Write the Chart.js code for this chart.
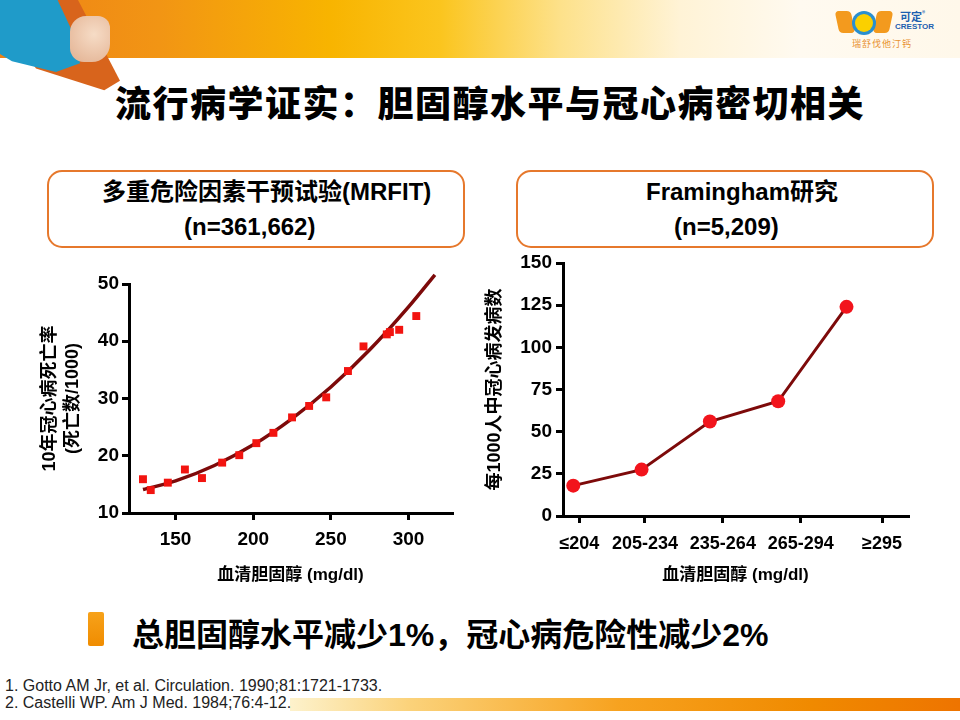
<!DOCTYPE html>
<html lang="zh-CN">

<head>
    <meta charset="UTF-8">
    <title>流行病学证实：胆固醇水平与冠心病密切相关</title>
    <script src="https://cdn.jsdelivr.net/npm/chart.js"></script>
    <style>
        body {
            margin: 0;
            background: #fff;
        }

        .slide {
            position: relative;
            width: 960px;
            height: 720px;
            overflow: hidden;
            background: #fff;
            font-family: "Liberation Sans", "Noto Sans CJK SC", sans-serif;
        }

        .banner {
            position: absolute;
            left: 0;
            top: 0;
            width: 960px;
            height: 58px;
            background: linear-gradient(to right, #ee8216 0px, #f29514 160px, #f8b400 330px, #fbc51e 440px, #fde18a 560px, #fff3d6 680px, #fffaf0 800px, #fff8ea 960px);
        }

        .cape {
            position: absolute;
            left: 15px;
            top: 0;
            width: 105px;
            height: 95px;
            background: #d8641c;
            clip-path: polygon(10% 0, 60% 0, 100% 85%, 85% 95%, 20% 72%, 0 40%);
        }

        .hero {
            position: absolute;
            left: 0;
            top: 0;
            width: 80px;
            height: 72px;
            background: #1f9bc9;
            clip-path: polygon(0 0, 72% 0, 95% 55%, 100% 88%, 70% 100%, 15% 85%, 0 75%);
        }

        .fist {
            position: absolute;
            left: 70px;
            top: 16px;
            width: 40px;
            height: 46px;
            border-radius: 16px 12px 18px 14px;
            background: radial-gradient(circle at 60% 40%, #f6dcc6, #e2b090);
        }

        .logo {
            position: absolute;
            left: 835px;
            top: 8px;
            width: 100px;
            height: 42px;
        }

        .logo .l1 {
            position: absolute;
            left: 2px;
            top: 3px;
            width: 16px;
            height: 22px;
            background: #f39a1e;
            border-radius: 4px;
            transform: skewX(12deg);
        }

        .logo .l2 {
            position: absolute;
            left: 40px;
            top: 3px;
            width: 16px;
            height: 22px;
            background: #f39a1e;
            border-radius: 4px;
            transform: skewX(-12deg);
        }

        .logo .sun {
            position: absolute;
            left: 20px;
            top: 6px;
            width: 18px;
            height: 18px;
            border-radius: 50%;
            background: #fbd000;
            box-shadow: 0 0 0 3px #2a8fd0;
        }

        .logo .cn {
            position: absolute;
            left: 65px;
            top: 0;
            font: bold 11px "Noto Sans CJK SC", sans-serif;
            color: #1c5fb0;
        }

        .logo .en {
            position: absolute;
            left: 60px;
            top: 14px;
            font: bold 8px "Liberation Sans", sans-serif;
            color: #1c5fb0;
        }

        .logo .sub {
            position: absolute;
            left: 17px;
            top: 29px;
            font: 9px "Noto Sans CJK SC", sans-serif;
            color: #e8902e;
            letter-spacing: 1px;
        }

        .title {
            position: absolute;
            left: 0;
            top: 75px;
            width: 980px;
            text-align: center;
            font: 900 36px "Noto Sans CJK SC", sans-serif;
            color: #000;
            letter-spacing: 1.5px;
        }

        .box {
            position: absolute;
            top: 170px;
            height: 74px;
            border: 2.5px solid #e6782c;
            border-radius: 15px;
            background: #fff;
            font-weight: bold;
            font-size: 24px;
            line-height: 28px;
            color: #000;
        }

        .box div {
            position: absolute;
            white-space: nowrap;
        }

        .chart {
            position: absolute;
        }

        .point-bar {
            position: absolute;
            left: 88px;
            top: 612px;
            width: 16px;
            height: 34px;
            background: linear-gradient(to bottom, #f7a21a, #f08c00);
            border-radius: 2px;
        }

        .point {
            position: absolute;
            left: 132px;
            top: 609px;
            font: bold 32px "Liberation Sans", "Noto Sans CJK SC", sans-serif;
            color: #000;
            white-space: nowrap;
        }

        .refs {
            position: absolute;
            left: 5px;
            top: 677px;
            font: 16px "Liberation Sans", sans-serif;
            line-height: 17px;
            color: #222;
        }

        .footbar {
            position: absolute;
            left: 290px;
            top: 698px;
            width: 670px;
            height: 13px;
            background: linear-gradient(to right, #fdf2cc 0, #fbd27a 120px, #f7a21f 330px, #f08a00 520px, #ee7400 670px);
        }
    </style>
</head>

<body>
    <div class="slide">
        <div class="banner"></div>
        <div class="cape"></div>
        <div class="hero"></div>
        <div class="fist"></div>
        <div class="logo">
            <div class="l1"></div>
            <div class="l2"></div>
            <div class="sun"></div>
            <div class="cn">可定<sup style="font-size:6px">®</sup></div>
            <div class="en">CRESTOR</div>
            <div class="sub">瑞舒伐他汀钙</div>
        </div>

        <div class="title">流行病学证实：胆固醇水平与冠心病密切相关</div>

        <div class="box" style="left:47px; width:414px;">
            <div style="left:53px; top:6px;">多重危险因素干预试验(MRFIT)</div>
            <div style="left:135px; top:41px;">(n=361,662)</div>
        </div>
        <div class="box" style="left:516px; width:414px;">
            <div style="left:128px; top:6px;">Framingham研究</div>
            <div style="left:156px; top:41px;">(n=5,209)</div>
        </div>

        <canvas id="chartMrfit" class="chart" width="450" height="330" style="left:20px; top:262px;"></canvas>
        <canvas id="chartFram" class="chart" width="460" height="355" style="left:475px; top:245px;"></canvas>

        <div class="footbar"></div>
        <div class="point-bar"></div>
        <div class="point">总胆固醇水平减少1%，冠心病危险性减少2%</div>
        <div class="refs">
            1. Gotto AM Jr, et al. Circulation. 1990;81:1721-1733.<br>
            2. Castelli WP. Am J Med. 1984;76:4-12.
        </div>
    </div>
</body>

</html>
<script>
    // MRFIT: serum cholesterol (mg/dl) vs 10-year CHD death rate (per 1000)
    var mrfitChol = [129, 134, 145, 156, 167, 180, 191, 202, 213, 225, 236, 247, 261, 271, 286, 288, 294, 305, 310];
    var mrfitRate = [15.9, 14.0, 15.3, 17.6, 16.1, 18.8, 20.1, 22.2, 24.0, 26.7, 28.7, 30.2, 34.8, 39.1, 41.2, 41.6, 42.0, 44.4, 51.0];
    // trend line
    var fitChol = [129, 150, 175, 200, 225, 250, 275, 300, 317];
    var fitRate = [14.1, 15.6, 18.3, 21.9, 26.5, 32.0, 38.5, 46.0, 51.6];
    var mrfitTicksX = [150, 200, 250, 300];
    var mrfitTicksY = [10, 20, 30, 40, 50];

    // Framingham: CHD incidence per 1000 by cholesterol group
    var framCats = ['≤204', '205-234', '235-264', '265-294', '≥295'];
    var framVals = [18, 27.5, 56, 68, 124];
    var framTicksY = [0, 25, 50, 75, 100, 125, 150];

    var fontFam = "'Liberation Sans', 'Noto Sans CJK SC', sans-serif";
    var darkRed = '#7d0a0a';

    function pts(xs, ys) {
        return xs.map(function (x, i) { return { x: x, y: ys[i] }; });
    }

    function axisStyle() {
        return {
            grid: { display: true, drawOnChartArea: false, drawTicks: true, tickLength: 7, color: '#000', lineWidth: 3 },
            border: { display: true, color: '#000', width: 3 }
        };
    }

    var mX = axisStyle();
    var mY = axisStyle();
    new Chart(document.getElementById('chartMrfit'), {
        type: 'scatter',
        data: {
            datasets: [{
                data: pts(mrfitChol, mrfitRate),
                pointStyle: 'rect',
                pointRadius: 5.6,
                pointBackgroundColor: '#f21410',
                pointBorderWidth: 0,
                order: 0
            }, {
                type: 'line',
                data: pts(fitChol, fitRate),
                borderColor: darkRed,
                borderWidth: 3.5,
                pointRadius: 0,
                cubicInterpolationMode: 'monotone',
                clip: false,
                order: 1
            }]
        },
        options: {
            responsive: false,
            animation: false,
            layout: { padding: { top: 22, right: 18, left: 0, bottom: 0 } },
            plugins: { legend: { display: false }, tooltip: { enabled: false } },
            scales: {
                x: {
                    type: 'linear',
                    min: 120,
                    max: 328,
                    grid: mX.grid,
                    border: mX.border,
                    afterBuildTicks: function (s) { s.ticks = mrfitTicksX.map(function (v) { return { value: v }; }); },
                    afterFit: function (s) { s.height = 79; },
                    ticks: { color: '#000', padding: 8, maxRotation: 0, font: { family: fontFam, size: 19, weight: 'bold' } },
                    title: {
                        display: true,
                        text: '血清胆固醇 (mg/dl)',
                        color: '#000',
                        padding: { top: 0, bottom: 6 },
                        font: { family: fontFam, size: 17, weight: 'bold' }
                    }
                },
                y: {
                    min: 10,
                    max: 50,
                    grid: mY.grid,
                    border: mY.border,
                    afterBuildTicks: function (s) { s.ticks = mrfitTicksY.map(function (v) { return { value: v }; }); },
                    afterFit: function (s) { s.width = 109; },
                    ticks: { color: '#000', padding: 3, font: { family: fontFam, size: 19, weight: 'bold' } },
                    title: {
                        display: true,
                        text: ['10年冠心病死亡率', '(死亡数/1000)'],
                        color: '#000',
                        padding: { top: 18, bottom: 0 },
                        font: { family: fontFam, size: 18, weight: 'bold', lineHeight: 1.3 }
                    }
                }
            }
        }
    });

    var fX = axisStyle();
    var fY = axisStyle();
    new Chart(document.getElementById('chartFram'), {
        type: 'line',
        data: {
            datasets: [{
                data: framVals.map(function (v, i) { return { x: i, y: v }; }),
                borderColor: darkRed,
                borderWidth: 3,
                pointRadius: 7,
                pointBackgroundColor: '#f2141c',
                pointBorderColor: '#f2141c',
                pointBorderWidth: 0,
                tension: 0
            }]
        },
        options: {
            responsive: false,
            animation: false,
            layout: { padding: { top: 18, right: 27, left: 0, bottom: 0 } },
            plugins: { legend: { display: false }, tooltip: { enabled: false } },
            scales: {
                x: {
                    type: 'linear',
                    min: -0.15,
                    max: 4.9,
                    grid: fX.grid,
                    border: fX.border,
                    // labels sit a little right of the points, as on the slide
                    afterBuildTicks: function (s) {
                        s.ticks = [0.09, 1.05, 2.19, 3.33, 4.52].map(function (v) { return { value: v }; });
                    },
                    afterFit: function (s) { s.height = 84; },
                    ticks: {
                        color: '#000',
                        padding: 10,
                        maxRotation: 0,
                        autoSkip: false,
                        font: { family: fontFam, size: 18, weight: 'bold' },
                        callback: function (v, i) { return framCats[i]; }
                    },
                    title: {
                        display: true,
                        text: '血清胆固醇 (mg/dl)',
                        color: '#000',
                        padding: { top: 0, bottom: 14 },
                        font: { family: fontFam, size: 17, weight: 'bold' }
                    }
                },
                y: {
                    min: 0,
                    max: 150,
                    grid: fY.grid,
                    border: fY.border,
                    afterBuildTicks: function (s) { s.ticks = framTicksY.map(function (v) { return { value: v }; }); },
                    afterFit: function (s) { s.width = 88; },
                    ticks: { color: '#000', padding: 4, font: { family: fontFam, size: 19, weight: 'bold' } },
                    title: {
                        display: true,
                        text: '每1000人中冠心病发病数',
                        color: '#000',
                        padding: { top: 9, bottom: 0 },
                        font: { family: fontFam, size: 18, weight: 'bold' }
                    }
                }
            }
        }
    });
</script>
